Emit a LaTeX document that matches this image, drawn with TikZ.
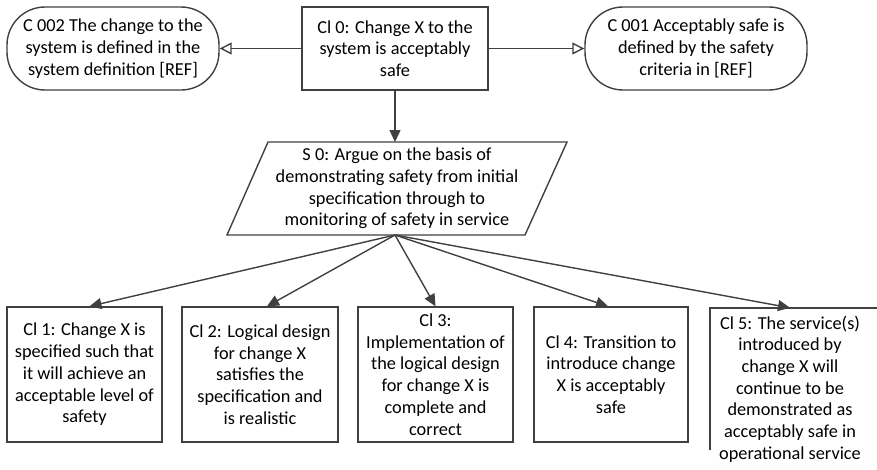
\documentclass[tikz,border=0pt]{standalone}
\usepackage{fontspec}
\setmainfont{Carlito}
\usetikzlibrary{arrows.meta}
\definecolor{ln}{HTML}{404040}
\begin{document}
\begin{tikzpicture}[x=1pt,y=-1pt,
  every node/.style={font=\fontsize{18.3}{21.7}\selectfont, align=center, inner sep=0pt},
  goalbox/.style={draw=ln, line width=1.4pt, rectangle, minimum height=83pt},
  ctxbox/.style={draw=ln, line width=1.4pt, rectangle, rounded corners=38pt, minimum height=83pt},
  claimbox/.style={draw=ln, line width=1.4pt, rectangle, minimum width=155pt, minimum height=135pt},
  solidarrow/.style={draw=ln, line width=1.4pt, -{Triangle[length=12pt,width=11pt]}},
  ctxarrow/.style={draw=ln, line width=1.4pt, -{Triangle[open,length=12pt,width=12pt]}},
  shapeline/.style={draw=ln, line width=1.4pt}
]
\clip (0,0) rectangle (877,469);
% top row
\node[ctxbox, minimum width=212pt] (c002) at (113,48.5) {C 002 The change to the\\system is defined in the\\system definition [REF]};
\node[goalbox, minimum width=186pt] (cl0) at (395,48.5) {Cl 0: Change X to the\\system is acceptably\\safe};
\node[ctxbox, minimum width=222pt] (c001) at (696,48.5) {C 001 Acceptably safe is\\defined by the safety\\criteria in [REF]};
% strategy
\coordinate (ptl) at (268,142);
\coordinate (ptr) at (567,142);
\coordinate (pbr) at (525,235);
\coordinate (pbl) at (227,235);
\draw[shapeline] (ptl) -- (ptr) -- (pbr) -- (pbl) -- cycle;
\node[minimum height=93pt] (s0) at (397,188.5) {S 0: Argue on the basis of\\demonstrating safety from initial\\specification through to\\monitoring of safety in service};
\coordinate (base) at (395,235);
% claims
\node[claimbox] (cl1) at (84.5,374.5) {Cl 1: Change X is\\specified such that\\it will achieve an\\acceptable level of\\safety};
\node[claimbox, minimum width=156pt] (cl2) at (260,374.5) {Cl 2: Logical design\\for change X\\satisfies the\\specification and\\is realistic};
\node[claimbox] (cl3) at (435.5,374.5) {Cl 3:\\Implementation of\\the logical design\\for change X is\\complete and\\correct};
\node[claimbox, minimum width=154pt] (cl4) at (611,374.5) {Cl 4: Transition to\\introduce change\\X is acceptably\\safe};
\node[minimum width=160pt, minimum height=162pt] (cl5) at (790,389) {Cl 5: The service(s)\\introduced by\\change X will\\continue to be\\demonstrated as\\acceptably safe in\\operational service};
\draw[shapeline] ([yshift=20pt]cl5.south west) -- (cl5.north west) -- ([xshift=40pt]cl5.north east);
% connectors
\draw[ctxarrow] (cl0.west) -- (c002.east);
\draw[ctxarrow] (cl0.east) -- (c001.west);
\draw[solidarrow] (cl0.south) -- (cl0.south |- ptl);
\draw[solidarrow] (base) -- ([xshift=5pt]cl1.north);
\draw[solidarrow] (base) -- ([xshift=7pt]cl2.north);
\draw[solidarrow] (base) -- (cl3.north);
\draw[solidarrow] (base) -- ([xshift=-3pt]cl4.north);
\draw[solidarrow] (base) -- (cl5.north);
\end{tikzpicture}
\end{document}
